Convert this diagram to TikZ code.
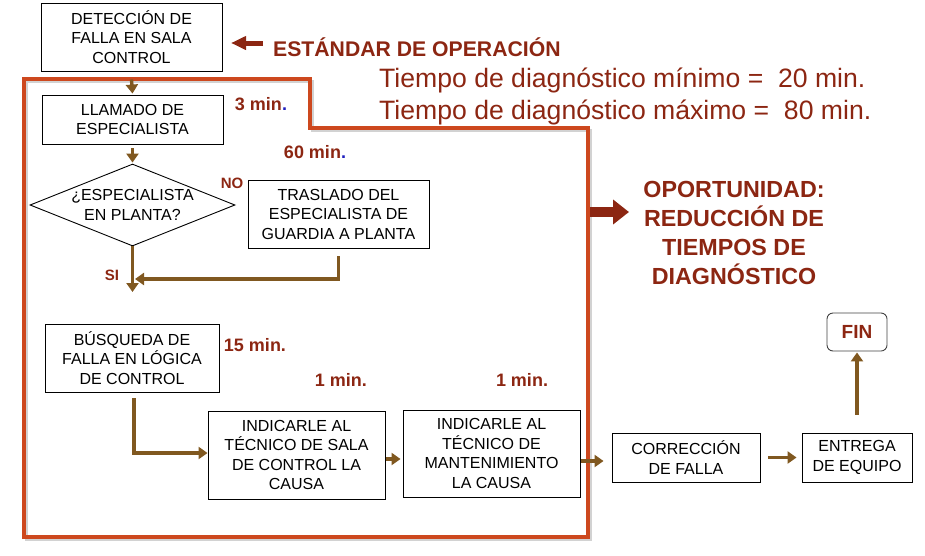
\documentclass[tikz,border=0pt]{standalone}
\usepackage{fontspec}
\setmainfont{Liberation Sans}
\usetikzlibrary{arrows.meta,shapes.geometric}
\definecolor{rojoosc}{RGB}{140,38,18}
\definecolor{marco}{RGB}{205,72,30}
\definecolor{cafe}{RGB}{128,88,32}
\definecolor{azul}{RGB}{30,30,190}
\tikzset{
  caja/.style={draw=black, line width=0.9pt, fill=white, align=center, inner sep=0pt,
    font=\fontsize{16}{19.5}\selectfont},
  flecha/.style={draw=cafe, line width=3.4pt, -{Triangle[length=9pt,width=12pt]}},
  tiempo/.style={text=rojoosc, font=\bfseries\fontsize{18}{20}\selectfont, inner sep=0pt},
  rotulo/.style={text=rojoosc, font=\bfseries\fontsize{15}{17}\selectfont, inner sep=0pt},
}
\begin{document}
\begin{tikzpicture}[x=1pt,y=-1pt]
\useasboundingbox (0,0) rectangle (925,555);
\draw[gray!35,line width=3pt] (26,81) -- (312,81) -- (312,130) -- (590,130) -- (590,539) -- (26,539) -- cycle;
\draw[marco,line width=3.4pt] (24,79) -- (310,79) -- (310,128) -- (588,128) -- (588,537) -- (24,537) -- cycle;
\node[caja,minimum width=181pt,minimum height=68pt] (det) at (131.5,37) {DETECCIÓN DE\\FALLA EN SALA\\CONTROL};
\node[caja,minimum width=181pt,minimum height=49pt] (llam) at (132.5,119.5) {LLAMADO DE\\ESPECIALISTA};
\node[draw=black,line width=0.9pt,fill=white,diamond,minimum width=205pt,minimum height=82pt,inner sep=0pt] (esp) at (132.5,205) {};
\node[align=center,inner sep=0pt,font=\fontsize{16}{19.5}\selectfont] (esptxt) at (esp.center) {¿ESPECIALISTA\\EN PLANTA?};
\node[caja,minimum width=181pt,minimum height=68pt] (tras) at (338.5,214) {TRASLADO DEL\\ESPECIALISTA DE\\GUARDIA A PLANTA};
\node[caja,minimum width=174pt,minimum height=68pt] (bus) at (132,358) {BÚSQUEDA DE\\FALLA EN LÓGICA\\DE CONTROL};
\node[caja,minimum width=177pt,minimum height=88pt] (ind1) at (296.5,455) {INDICARLE AL\\TÉCNICO DE SALA\\DE CONTROL LA\\CAUSA};
\node[caja,minimum width=177pt,minimum height=87pt] (ind2) at (491.5,453.5) {INDICARLE AL\\TÉCNICO DE\\MANTENIMIENTO\\LA CAUSA};
\node[caja,minimum width=148pt,minimum height=49pt] (corr) at (686,457.5) {CORRECCIÓN\\DE FALLA};
\node[caja,minimum width=110pt,minimum height=49pt] (ent) at (857,457.5) {ENTREGA\\DE EQUIPO};
\node[draw=black!75,line width=0.9pt,rounded corners=6pt,minimum width=60pt,minimum height=38pt,inner sep=0pt,text=rojoosc,font=\bfseries\fontsize{19}{21}\selectfont] (fin) at (857,332) {FIN};
\node[tiempo] (t3) at (261,104) {3 min{\color{azul}.}};
\node[tiempo] (t60) at (315,152) {60 min{\color{azul}.}};
\node[tiempo] (t15) at (255,345) {15 min.};
\node[tiempo] (t1a) at (341,380) {1 min.};
\node[tiempo] (t1b) at (522,380) {1 min.};
\node[rotulo] (no) at (232,183) {NO};
\node[rotulo] (si) at (112,275) {SI};
\node[anchor=west,inner sep=0pt,text=rojoosc,font=\bfseries\fontsize{21.2}{23}\selectfont] (estandar) at (273,47) {ESTÁNDAR DE OPERACIÓN};
\node[anchor=west,inner sep=0pt,text=rojoosc,font=\fontsize{26.6}{28}\selectfont] (tmin) at (379,80) {Tiempo de diagnóstico mínimo =~ 20 min.};
\node[anchor=west,inner sep=0pt,text=rojoosc,font=\fontsize{26.6}{28}\selectfont] (tmax) at (379,112) {Tiempo de diagnóstico máximo =~ 80 min.};
\node[align=center,inner sep=0pt,text=rojoosc,font=\bfseries\fontsize{23.3}{29}\selectfont] (oport) at (734,233) {OPORTUNIDAD:\\REDUCCIÓN DE\\TIEMPOS DE\\DIAGNÓSTICO};
\coordinate (siend) at (132.5,292);
\coordinate (junta) at (135,279);
\coordinate (esta) at (263,43);
\coordinate (estb) at (231,43);
\coordinate (opa) at (590,212);
\coordinate (opb) at (629,212);
\draw[flecha] ([yshift=-8pt]det.south) -- ([yshift=1pt]llam.north);
\draw[flecha] ([yshift=-4pt]llam.south) -- ([yshift=1pt]esp.north);
\draw[flecha] (esp.south) -- (siend);
\draw[flecha] ([yshift=-8pt]tras.south) |- (junta);
\draw[flecha] ([yshift=-6pt,xshift=2pt]bus.south) |- ([yshift=2pt]ind1.west);
\draw[flecha,shorten <=1pt,shorten >=2pt] ([yshift=-4pt]ind1.east) -- ([yshift=-5.5pt]ind2.west);
\draw[flecha,shorten <=1pt,shorten >=8pt] ([yshift=-7.5pt]ind2.east) -- ([yshift=-3.5pt]corr.west);
\draw[flecha,shorten <=8pt,shorten >=5pt] (corr.east) -- (ent.west);
\draw[flecha] ([yshift=18pt]ent.north) -- ([yshift=-1pt]fin.south);
\draw[draw=rojoosc,line width=5pt,-{Triangle[length=15pt,width=13pt]}] (esta) -- (estb);
\draw[draw=rojoosc,line width=10pt,-{Triangle[length=16pt,width=24pt]}] (opa) -- (opb);
\end{tikzpicture}
\end{document}
